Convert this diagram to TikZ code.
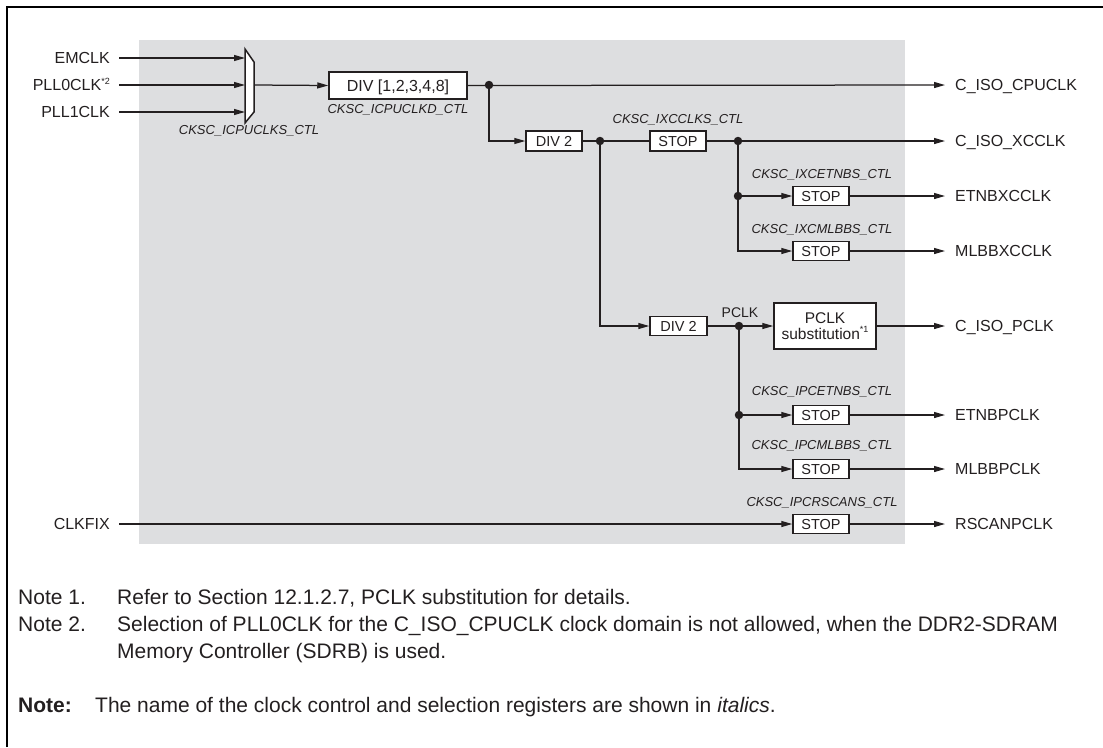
\documentclass[tikz,border=0pt]{standalone}
\usepackage{fontspec}
\setmainfont{Liberation Sans}
\usetikzlibrary{arrows.meta}
\definecolor{bggray}{RGB}{221,222,224}
\definecolor{ink}{RGB}{35,31,32}
\newcommand\supx[1]{\raisebox{0.42em}{\fontsize{9}{9}\selectfont #1}}
\begin{document}
\begin{tikzpicture}[x=1pt,y=-1pt,
  sig/.style={draw=ink, line width=1.25pt},
  arr/.style={sig, -{Triangle[length=11pt,width=6pt]}},
  box/.style={draw=ink, line width=1.5pt, fill=white, inner sep=0pt,
    minimum width=56pt, minimum height=20pt, text height=10.4pt, text depth=0pt,
    font=\fontsize{14.5}{16}\selectfont, text=ink},
  lbl/.style={inner sep=0pt, text height=11.5pt, text depth=0pt,
    font=\fontsize{16}{18}\selectfont, text=ink},
  reg/.style={inner sep=0pt, text height=9.3pt, text depth=0pt,
    font=\fontsize{13}{15}\selectfont\itshape, text=ink},
  note/.style={inner sep=0pt, anchor=base west,
    font=\fontsize{21}{26}\selectfont, text=ink},
  dotn/.style={circle, fill=ink, inner sep=0pt, minimum size=8.5pt}]
\useasboundingbox (0,0) rectangle (1103,747);
% frame and background
\fill[bggray] (139,40) rectangle (905,544);
\draw[line width=2pt, black] (7,747) -- (7,7) -- (1103,7);

% inputs
\node[lbl, anchor=east] (emclk) at (110,58) {EMCLK};
\node[lbl, anchor=east] (pll0) at (110,85) {PLL0CLK\supx{*2}};
\node[lbl, anchor=east] (pll1) at (110,112) {PLL1CLK};
\node[lbl, anchor=east] (clkfix) at (110,524) {CLKFIX};

% mux
\draw[sig, line width=1.5pt, fill=white] (245,49) -- (254,62) -- (254,112) -- (245,123) -- cycle;
\coordinate (m1) at (245,58);
\coordinate (m2) at (245,85);
\coordinate (m3) at (245,112);
\coordinate (mo) at (254,85);
\node[reg] (regmux) at (249,130) {CKSC\_ICPUCLKS\_CTL};
\draw[arr, shorten <=9pt] (emclk.east) -- (m1);
\draw[arr, shorten <=9pt] (pll0.east) -- (m2);
\draw[arr, shorten <=9pt] (pll1.east) -- (m3);

% main divider
\node[box, minimum width=138pt, minimum height=27pt, text height=11.5pt,
  font=\fontsize{16}{18}\selectfont] (div) at (398,85.5) {DIV [1,2,3,4,8]};
\node[reg] (regdiv) at (398,109) {CKSC\_ICPUCLKD\_CTL};
\draw[arr] (mo) -- (div.west);

% outputs labels
\node[lbl, anchor=west] (ocpu) at (955,85) {C\_ISO\_CPUCLK};
\node[lbl, anchor=west] (oxc) at (955,141) {C\_ISO\_XCCLK};
\node[lbl, anchor=west] (oetnbx) at (955,196) {ETNBXCCLK};
\node[lbl, anchor=west] (omlbbx) at (955,251) {MLBBXCCLK};
\node[lbl, anchor=west] (opclk) at (955,326) {C\_ISO\_PCLK};
\node[lbl, anchor=west] (oetnbp) at (955,415) {ETNBPCLK};
\node[lbl, anchor=west] (omlbbp) at (955,469) {MLBBPCLK};
\node[lbl, anchor=west] (orscan) at (955,524) {RSCANPCLK};

% CPU clock
\node[dotn] (d1) at (489,85) {};
\draw[arr, shorten >=10pt] (div.east) -- (ocpu.west);

% XC branch
\node[box] (div2a) at (554,141) {DIV 2};
\draw[arr] (d1) |- (div2a.west);
\node[dotn] (d2) at (600,141) {};
\node[box] (stopa) at (678,141) {STOP};
\node[reg] (rega) at (678,119) {CKSC\_IXCCLKS\_CTL};
\draw[sig] (div2a.east) -- (stopa.west);
\node[dotn] (d3) at (738,141) {};
\draw[arr, shorten >=10pt] (stopa.east) -- (oxc.west);

\node[dotn] (d4) at (738,196) {};
\node[box, minimum height=19pt] (stopb) at (821,196) {STOP};
\node[box, minimum height=19pt] (stopc) at (821,251) {STOP};
\node[reg] (regb) at (822,174) {CKSC\_IXCETNBS\_CTL};
\node[reg] (regc) at (822,229) {CKSC\_IXCMLBBS\_CTL};
\draw[sig] (d3) -- (d4);
\draw[arr] (d4) -- (stopb.west);
\draw[arr] (d4) |- (stopc.west);
\draw[arr, shorten >=10pt] (stopb.east) -- (oetnbx.west);
\draw[arr, shorten >=10pt] (stopc.east) -- (omlbbx.west);

% PCLK branch
\node[box, minimum width=57pt, minimum height=19pt] (div2b) at (678.5,326) {DIV 2};
\draw[arr] (d2) |- (div2b.west);
\node[dotn] (d5) at (739,326) {};
\node[inner sep=0pt, text height=10pt, text depth=0pt, font=\fontsize{14}{16}\selectfont, text=ink] (pclk) at (740,312) {PCLK};
\node[draw=ink, line width=1.5pt, fill=white, inner sep=0pt, minimum width=102pt, minimum height=46pt,
  align=center, font=\fontsize{15.5}{16}\selectfont, text=ink] (psub) at (825,326) {PCLK\\substitution\supx{*1}};
\draw[sig] (div2b.east) -- (d5);
\draw[arr] (d5) -- (psub.west);
\draw[arr, shorten >=10pt] (psub.east) -- (opclk.west);

\node[dotn] (d6) at (739,415) {};
\node[box, minimum height=19pt] (stopd) at (821,415) {STOP};
\node[box, minimum height=19pt] (stope) at (821,469) {STOP};
\node[reg] (regd) at (822,391) {CKSC\_IPCETNBS\_CTL};
\node[reg] (rege) at (822,445) {CKSC\_IPCMLBBS\_CTL};
\draw[sig] (d5) -- (d6);
\draw[arr] (d6) -- (stopd.west);
\draw[arr] (d6) |- (stope.west);
\draw[arr, shorten >=10pt] (stopd.east) -- (oetnbp.west);
\draw[arr, shorten >=10pt] (stope.east) -- (omlbbp.west);

% RSCAN
\node[box, minimum height=19pt] (stopf) at (821,524) {STOP};
\node[reg] (regf) at (822,502) {CKSC\_IPCRSCANS\_CTL};
\draw[arr, shorten <=9pt] (clkfix.east) -- (stopf.west);
\draw[arr, shorten >=10pt] (stopf.east) -- (orscan.west);

% notes
\node[note] (n1) at (18,604) {Note 1.};
\node[note] (n1t) at (117,604) {Refer to Section 12.1.2.7, PCLK substitution for details.};
\node[note] (n2) at (18,631) {Note 2.};
\node[note] (n2t) at (117,631) {Selection of PLL0CLK for the C\_ISO\_CPUCLK clock domain is not allowed, when the DDR2-SDRAM};
\node[note] (n2u) at (117,658) {Memory Controller (SDRB) is used.};
\node[note] (n3) at (18,712) {\bfseries Note:};
\node[note] (n3t) at (95,712) {The name of the clock control and selection registers are shown in \textit{italics}.};
\end{tikzpicture}
\end{document}
